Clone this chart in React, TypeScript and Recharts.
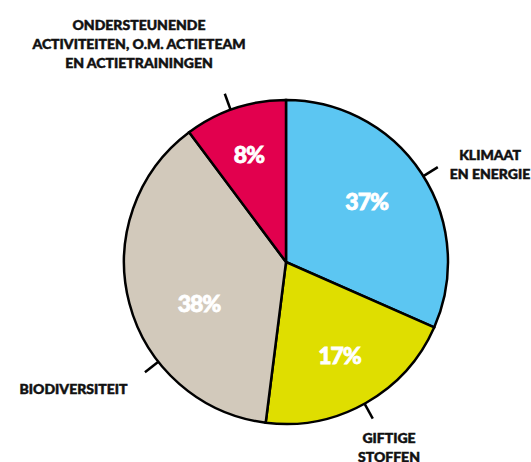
import React from "react";
import { PieChart, Pie, Cell } from "recharts";

// Categories (clockwise from 12 o'clock)
const categories = [
  "KLIMAAT|EN ENERGIE",
  "GIFTIGE|STOFFEN",
  "BIODIVERSITEIT",
  "ONDERSTEUNENDE|ACTIVITEITEN, O.M. ACTIETEAM|EN ACTIETRAININGEN",
];
// Printed percentage labels
const percentLabels = ["37%", "17%", "38%", "8%"];
// Slice shares as drawn in the picture (angular share of the circle, %)
const sliceShares = [31.6, 20.4, 37.8, 10.2];

const colors = ["#5CC6F2", "#DFDE00", "#D2C9BB", "#E2004E"];

// Label layout (angles clockwise from top, offsets relative to pie centre)
const layout = [
  { pctAngle: 53, pctR: 101, tickAngle: 58, ox: 204, oy: -108 },
  { pctAngle: 150, pctR: 107, tickAngle: 151, ox: 103, oy: 175 },
  { pctAngle: 245, pctR: 96, tickAngle: 232, ox: -212.5, oy: 126 },
  { pctAngle: 341, pctR: 114, tickAngle: 340, ox: -147, oy: -238 },
];

const data = categories.map((c, i) => ({
  name: c,
  value: sliceShares[i],
  pct: percentLabels[i],
}));

const FONT = "Lato, 'Noto Sans', sans-serif";

const pt = (cx: number, cy: number, r: number, deg: number) => {
  const a = (deg * Math.PI) / 180;
  return { x: cx + r * Math.sin(a), y: cy - r * Math.cos(a) };
};

const renderLabel = (props: any) => {
  const { cx, cy, outerRadius, index } = props;
  const L = layout[index];
  const d = data[index];
  const p = pt(cx, cy, L.pctR, L.pctAngle);
  const t1 = pt(cx, cy, outerRadius, L.tickAngle);
  const t2 = pt(cx, cy, outerRadius + 17, L.tickAngle);
  const lines = d.name.split("|");
  return (
    <g key={`lbl-${index}`}>
      <line x1={t1.x} y1={t1.y} x2={t2.x} y2={t2.y} stroke="#000" strokeWidth={2.5} />
      <text
        x={p.x}
        y={p.y}
        fill="#fff"
        stroke="#fff"
        strokeWidth={0.8}
        textAnchor="middle"
        dominantBaseline="central"
        fontFamily={FONT}
        fontWeight={900}
        fontSize={23}
        letterSpacing={-1}
      >
        {d.pct}
      </text>
      {lines.map((ln, k) => (
        <text
          key={k}
          x={cx + L.ox}
          y={cy + L.oy + k * 19}
          fill="#111"
          stroke="#111"
          strokeWidth={0.5}
          textAnchor="middle"
          dominantBaseline="central"
          fontFamily={FONT}
          fontWeight={900}
          fontSize={14}
          letterSpacing={0}
        >
          {ln}
        </text>
      ))}
    </g>
  );
};

export default function App() {
  return (
    <div style={{ position: "absolute", left: 0, top: 0, width: 531, height: 462, background: "#fff" }}>
      <PieChart width={531} height={462} margin={{ top: 0, right: 0, bottom: 0, left: 0 }}>
        <Pie
          data={data}
          dataKey="value"
          cx={286}
          cy={262}
          outerRadius={162}
          startAngle={90}
          endAngle={-270}
          stroke="#000"
          strokeWidth={2.5}
          label={renderLabel}
          labelLine={false}
          isAnimationActive={false}
        >
          {data.map((d, i) => (
            <Cell key={i} fill={colors[i]} stroke="#000" strokeWidth={2.5} />
          ))}
        </Pie>
      </PieChart>
    </div>
  );
}
